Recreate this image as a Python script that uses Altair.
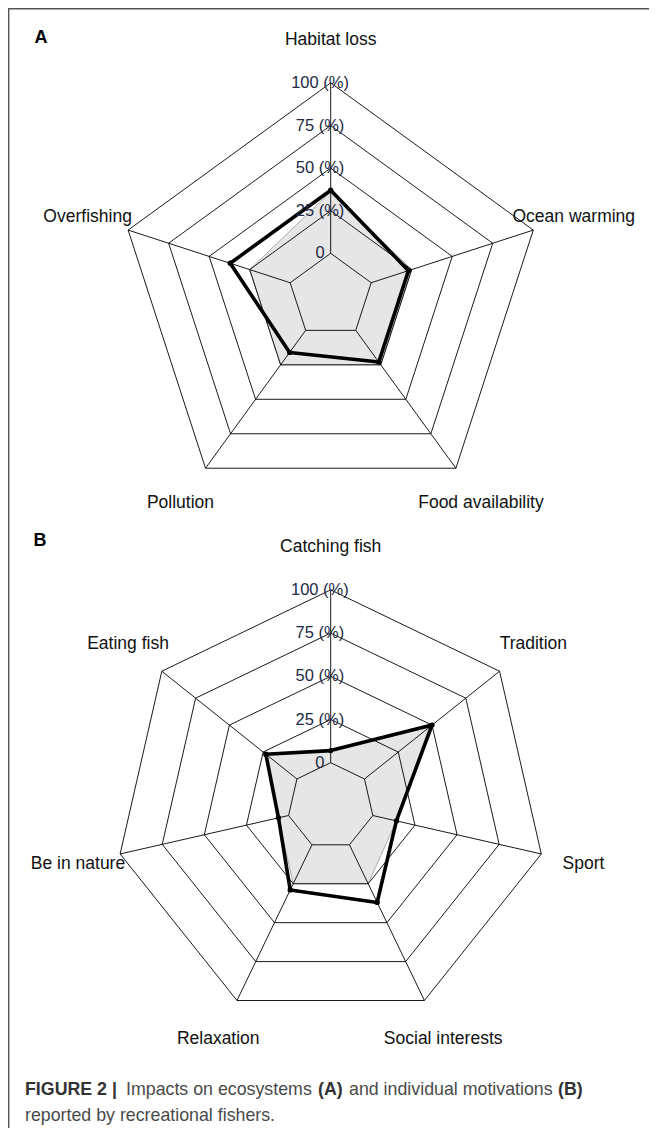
import math
import altair as alt
import pandas as pd

# ---------------- data ----------------
A_AXES = ["Habitat loss", "Ocean warming", "Food availability", "Pollution", "Overfishing"]
A_BLACK = [37, 23, 23, 16, 37]
A_GRAY = [36, 25, 25, 25, 25]

B_AXES = ["Catching fish", "Tradition", "Sport", "Social interests",
          "Relaxation", "Be in nature", "Eating fish"]
B_BLACK = [7, 50, 14, 37, 29, 6, 23]
B_GRAY = [7, 48, 14, 25, 25, 6, 23]

RING_VALUES = [0, 25, 50, 75, 100]
RING_LABELS = ["0", "25 (%)", "50 (%)", "75 (%)", "100 (%)"]

CAPTION_1 = [("FIGURE 2 |", "bold"), ("Impacts on ecosystems", "normal"), ("(A)", "bold"),
             ("and individual motivations", "normal"), ("(B)", "bold")]
CAPTION_2 = "reported by recreational fishers."

# ---------------- layout ----------------
W, H = 641, 1120
OFF = 8
PANELS = {
    "A": dict(axes=A_AXES, black=A_BLACK, gray=A_GRAY, cx=330.7 - OFF, cy=295.9 - OFF, R=213),
    "B": dict(axes=B_AXES, black=B_BLACK, gray=B_GRAY, cx=330.7 - OFF, cy=805.9 - OFF, R=216),
}
LETTER_POS = {"A": (41 - OFF, 38 - OFF), "B": (40 - OFF, 541 - OFF)}
CAP_X = [25, 126, 318, 349, 558]
CAP_Y1, CAP_Y2 = 1090 - OFF, 1116 - OFF
FONT = "Liberation Sans"


def radius(R, v):
    step = R / 5.0
    return step * (1 + v / 25.0)


def polar(cx, cy, r, k, n):
    th = 2 * math.pi * k / n
    return cx + r * math.sin(th), cy - r * math.cos(th)


rings, spokes, polys, labels, axlabels, pts = [], [], [], [], [], []
for pname, p in PANELS.items():
    n = len(p["axes"])
    cx, cy, R = p["cx"], p["cy"], p["R"]
    for rv in RING_VALUES:
        for k in range(n + 1):
            x, y = polar(cx, cy, radius(R, rv), k % n, n)
            rings.append(dict(key=f"{pname}{rv}", order=k, x=x, y=y))
    for k in range(n):
        x0, y0 = polar(cx, cy, radius(R, 0), k, n)
        x1, y1 = polar(cx, cy, radius(R, 100), k, n)
        spokes.append(dict(x=x0, y=y0, x2=x1, y2=y1))
        lx, ly = polar(cx, cy, 1.2 * R, k, n)
        labels.append(dict(text=p["axes"][k], x=lx, y=ly))
    for series in ("gray", "black"):
        vals = p[series]
        for k in range(n + 1):
            x, y = polar(cx, cy, radius(R, vals[k % n]), k % n, n)
            polys.append(dict(series=series, key=f"{pname}{series}", order=k, x=x, y=y))
            if series == "black" and k < n:
                pts.append(dict(x=x, y=y))
    for rv, lab in zip(RING_VALUES, RING_LABELS):
        x, y = polar(cx, cy, radius(R, rv), 0, n)
        axlabels.append(dict(text=lab, x=cx - 0.05 * R, y=y))

rings = pd.DataFrame(rings)
spokes = pd.DataFrame(spokes)
polys = pd.DataFrame(polys)
labels = pd.DataFrame(labels)
axlabels = pd.DataFrame(axlabels)
pts = pd.DataFrame(pts)

xs = alt.Scale(domain=[0, W], range=[0, W], nice=False, zero=False)
ys = alt.Scale(domain=[0, H], range=[0, H], nice=False, zero=False)
X = alt.X("x:Q", scale=xs, axis=None)
Y = alt.Y("y:Q", scale=ys, axis=None)

gray = alt.Chart(polys[polys.series == "gray"]).mark_line(
    fill="#e6e6e6", stroke="#9a9a9a", strokeWidth=0.8
).encode(X, Y, detail="key:N", order="order:Q")

grid = alt.Chart(rings).mark_line(color="#000000", strokeWidth=0.9).encode(
    X, Y, detail="key:N", order="order:Q")

spk = alt.Chart(spokes).mark_rule(color="#000000", strokeWidth=0.9).encode(
    X, Y, x2="x2:Q", y2="y2:Q")

black = alt.Chart(polys[polys.series == "black"]).mark_line(
    color="#000000", strokeWidth=3.6, strokeJoin="round"
).encode(X, Y, detail="key:N", order="order:Q")

dots = alt.Chart(pts).mark_circle(color="#000000", size=28, opacity=1).encode(X, Y)

axis_text = alt.Chart(labels).mark_text(
    font=FONT, fontSize=17.5, color="#111111", align="center", baseline="middle"
).encode(X, Y, text="text:N")

ring_text = alt.Chart(axlabels).mark_text(
    font=FONT, fontSize=16.5, color="#232a45", align="center", baseline="middle"
).encode(X, Y, text="text:N")

letters = pd.DataFrame([dict(text=k, x=v[0], y=v[1]) for k, v in LETTER_POS.items()])
letter_text = alt.Chart(letters).mark_text(
    font=FONT, fontSize=18, fontWeight="bold", color="#000000", align="center", baseline="middle"
).encode(X, Y, text="text:N")

cap_layers = []
for (txt, wt), cx_ in zip(CAPTION_1, CAP_X):
    df = pd.DataFrame([dict(text=txt, x=cx_ - OFF, y=CAP_Y1)])
    cap_layers.append(alt.Chart(df).mark_text(
        font=FONT, fontSize=17.8, fontWeight=wt, color="#333333" if wt == "bold" else "#4a4a4a",
        align="left", baseline="middle").encode(X, Y, text="text:N"))
df2 = pd.DataFrame([dict(text=CAPTION_2, x=CAP_X[0] - OFF, y=CAP_Y2)])
cap_layers.append(alt.Chart(df2).mark_text(
    font=FONT, fontSize=17.8, color="#4a4a4a", align="left", baseline="middle"
).encode(X, Y, text="text:N"))

frame_top = alt.Chart(pd.DataFrame([{"a": 0}])).mark_rule(color="#555555", strokeWidth=1.6).encode(
    x=alt.value(0), x2=alt.value(W), y=alt.value(0.8))
frame_left = alt.Chart(pd.DataFrame([{"a": 0}])).mark_rule(color="#555555", strokeWidth=1.4).encode(
    x=alt.value(0.7), y=alt.value(0), y2=alt.value(H))

chart = alt.layer(
    gray, grid, spk, black, dots, axis_text, ring_text, letter_text, *cap_layers, frame_top, frame_left
).properties(width=W, height=H, padding=0, autosize=alt.AutoSizeParams(type="none")).configure_view(
    stroke=None).configure(background="white")

chart.save("out.html", embed_options={"renderer": "svg", "actions": False})
